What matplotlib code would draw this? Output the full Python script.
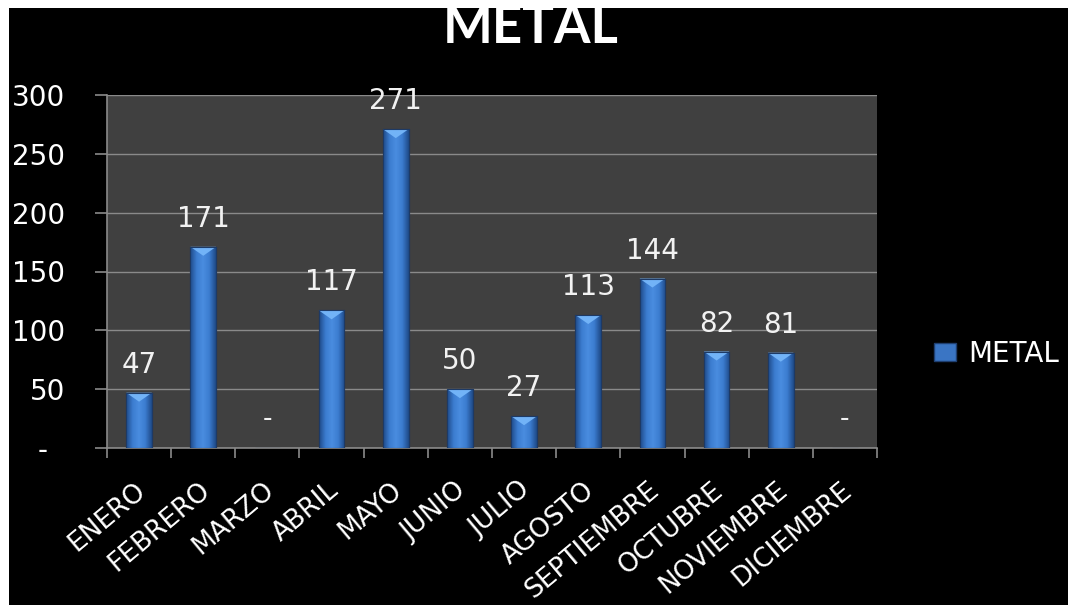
import matplotlib
matplotlib.use("Agg")
import matplotlib.pyplot as plt
import matplotlib.transforms as mtransforms
import numpy as np
from matplotlib.patches import Rectangle, Polygon
from matplotlib.colors import LinearSegmentedColormap

months = ["ENERO", "FEBRERO", "MARZO", "ABRIL", "MAYO", "JUNIO", "JULIO",
          "AGOSTO", "SEPTIEMBRE", "OCTUBRE", "NOVIEMBRE", "DICIEMBRE"]
values = [47, 171, 0, 117, 271, 50, 27, 113, 144, 82, 81, 0]
yticks = [0, 50, 100, 150, 200, 250, 300]
ytick_labels = ["-  ", "50", "100", "150", "200", "250", "300"]
series_name = "METAL"
title = "METAL"

plt.rcParams['font.family'] = ['DejaVu Sans']

fig = plt.figure(figsize=(10.68, 6.05), dpi=100, facecolor="white")
# black background
fig.patches.append(Rectangle((0, 0), 1, 1, transform=fig.transFigure,
                             facecolor="black", edgecolor="none", zorder=-10))

ax = fig.add_axes([107/1068, 1 - 448/605, 770/1068, 353/605])
ax.set_facecolor("#404040")
x = np.arange(len(months))
bw = 0.40
bars = ax.bar(x, values, width=bw, color="#3a75c4", edgecolor="#1f3f70", linewidth=0.8, zorder=3)

cmap = LinearSegmentedColormap.from_list("bg", ["#1f4a88", "#3b7ccf", "#4a8de0", "#3b7ccf", "#1f4a88"])
grad = np.linspace(0, 1, 64).reshape(1, -1)
for b, v in zip(bars, values):
    if v <= 0:
        continue
    x0, w, h = b.get_x(), b.get_width(), b.get_height()
    im = ax.imshow(grad, cmap=cmap, extent=[x0, x0 + w, 0, h], aspect="auto", zorder=3.5)
    im.set_clip_path(b)
    tri_h = min(9 * 300 / 353, h)
    ax.add_patch(Polygon([[x0, h], [x0 + w, h], [x0 + w / 2, h - tri_h]], closed=True,
                         facecolor="#72b3f7", edgecolor="none", zorder=4))
    ax.add_patch(Rectangle((x0, 0), w, h, facecolor="none", edgecolor="#1d3a66", linewidth=0.8, zorder=4.5))

for xi, v in zip(x, values):
    if v > 0:
        ax.text(xi, v + 17, str(v), ha="center", va="baseline", color="#f2f2f2", fontsize=20, zorder=5)
    else:
        ax.text(xi, 25, "-", ha="center", va="center", color="#f2f2f2", fontsize=19, zorder=5)

ax.set_xlim(-0.5, len(months) - 0.5)
ax.set_ylim(0, 300)
ax.set_yticks(yticks)
ax.set_yticklabels(ytick_labels, color="white", fontsize=20)
ax.yaxis.grid(True, color="#8a8a8a", linewidth=1, zorder=1)
ax.set_axisbelow(True)

ax.set_xticks(x)
ax.set_xticklabels(months, rotation=40, ha="right", va="top", rotation_mode="anchor",
                   color="white", fontsize=19)
ax.tick_params(axis="x", which="major", length=0, pad=21)
ax.set_xticks(np.arange(-0.5, len(months)), minor=True)
ax.tick_params(axis="x", which="minor", length=7, color="#8a8a8a", width=1.2)
ax.tick_params(axis="y", length=9, color="#8a8a8a", width=1.2, pad=21)
for lab in ax.get_xticklabels():
    lab.set_transform(lab.get_transform() + mtransforms.ScaledTranslation(-5/100, 0, fig.dpi_scale_trans))

for s in ["top", "right"]:
    ax.spines[s].set_visible(False)
ax.spines["left"].set_color("#8a8a8a")
ax.spines["bottom"].set_color("#8a8a8a")
ax.spines["left"].set_linewidth(1.2)
ax.spines["bottom"].set_linewidth(1.2)

fig.text(531/1068, 1 - 43/605, title, ha="center", va="baseline", color="white",
         fontsize=38, fontweight="bold", family="Lato")
# white strips over the top and left edges (title is clipped there in the original)
fig.patches.append(Rectangle((0, 1 - 8/605), 1, 8/605, transform=fig.transFigure,
                             facecolor="white", edgecolor="none", zorder=20))
fig.patches.append(Rectangle((0, 0), 9/1068, 1, transform=fig.transFigure,
                             facecolor="white", edgecolor="none", zorder=20))

leg_handle = Rectangle((0, 0), 1, 1, facecolor="#3a75c4", edgecolor="#1f3f70")
leg = fig.legend([leg_handle], [series_name], loc="center left",
                 bbox_to_anchor=(909/1068, 1 - 354/605), frameon=False,
                 fontsize=20, handlelength=0.8, handleheight=0.6, handletextpad=0.45)
for t in leg.get_texts():
    t.set_color("white")

fig.savefig("out.png", dpi=100, facecolor=fig.get_facecolor())
